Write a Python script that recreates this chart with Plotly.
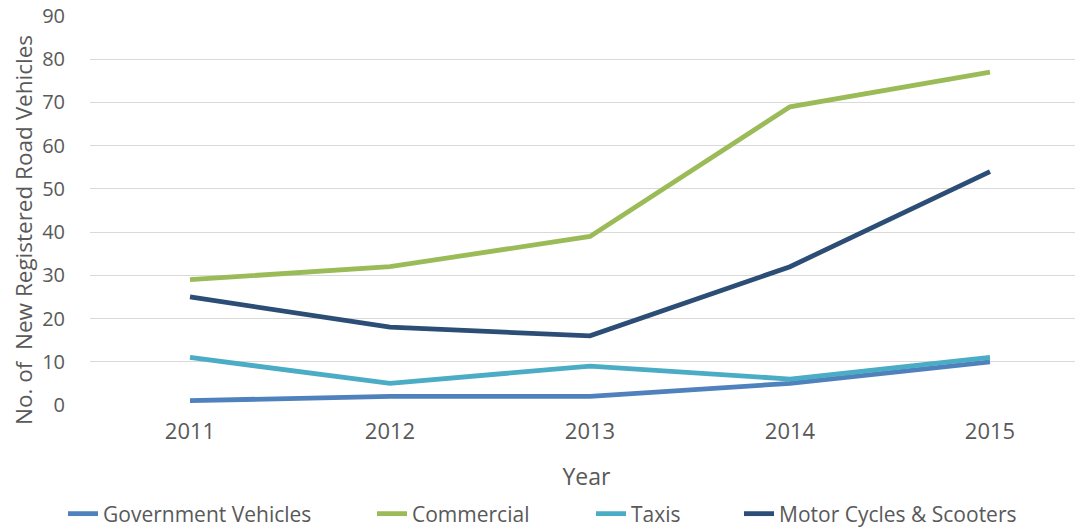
import plotly.graph_objects as go

years = ["2011", "2012", "2013", "2014", "2015"]
government = [1, 2, 2, 5, 10]
commercial = [29, 32, 39, 69, 77]
taxis = [11, 5, 9, 6, 11]
motorcycles = [25, 18, 16, 32, 54]

series = [
    ("Government Vehicles", government, "#4F81BD"),
    ("Commercial", commercial, "#9BBB59"),
    ("Taxis", taxis, "#4BACC6"),
    ("Motor Cycles & Scooters", motorcycles, "#2C4D75"),
]
legend_left_px = [55, 364, 583, 731]

# page body has an 8px margin, so the figure is sized to fit the window
W, H = 1075, 521
ML, MT, MB = 82, 7, 124
plot_h = H - MT - MB
plot_w = W - ML
cat_px = 200
y_top = 90 * plot_h / (plot_h - 1)

fig = go.Figure()
legend_layout = {}
for i, (name, vals, color) in enumerate(series):
    lname = "legend" if i == 0 else f"legend{i+1}"
    fig.add_trace(go.Scatter(x=years, y=vals, name=name, mode="lines",
                             line=dict(color=color, width=4.8), legend=lname,
                             showlegend=True))
    legend_layout[lname] = dict(
        orientation="h", xref="container", yref="container",
        x=legend_left_px[i] / W, xanchor="left",
        y=(H - 506) / H, yanchor="middle",
        font=dict(size=21), bgcolor="rgba(0,0,0,0)",
    )

font_family = "Open Sans"
fig.update_layout(
    width=W, height=H, showlegend=True,
    margin=dict(l=ML, r=0, t=MT, b=MB),
    plot_bgcolor="white", paper_bgcolor="white",
    font=dict(family=font_family, color="#595959", size=20),
    xaxis=dict(type="category", range=[-0.5, -0.5 + plot_w / cat_px], showgrid=False,
               showline=False, ticks="", tickfont=dict(size=22), automargin=False,
               ticklabelstandoff=11,
               title=dict(text="Year", font=dict(size=23), standoff=24)),
    yaxis=dict(range=[0, y_top], tickvals=list(range(0, 91, 10)), showgrid=True,
               gridcolor="#D9D9D9", gridwidth=1.3,
               zeroline=False, showline=False, ticks="outside", ticklen=20,
               tickcolor="rgba(0,0,0,0)", tickfont=dict(size=20),
               automargin=False, ticklabeloverflow="allow"),
    annotations=[dict(
        text="No. of  New Registered Road Vehicles", textangle=-90,
        xref="paper", yref="paper",
        x=(15 - ML) / plot_w, y=(MT + plot_h - 222) / plot_h,
        xanchor="center", yanchor="middle", showarrow=False,
        font=dict(size=22.5, color="#595959", family=font_family),
    )],
    **legend_layout,
)

fig.write_html("out.html")
